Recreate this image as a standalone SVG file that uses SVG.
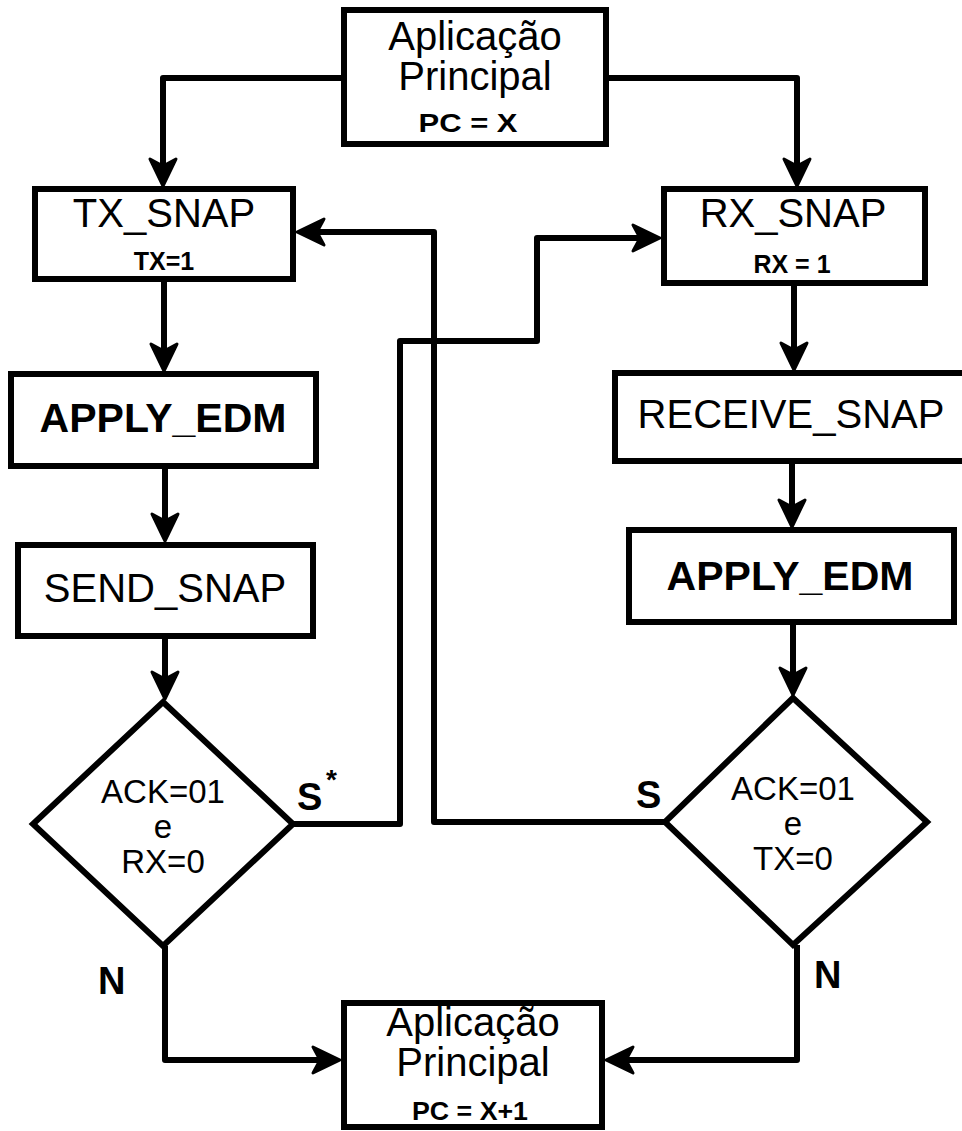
<svg xmlns="http://www.w3.org/2000/svg" width="962" height="1131" viewBox="0 0 962 1131">
<style>
.box{fill:#fff;stroke:#000;stroke-width:6}
.t{font-family:"Liberation Sans",Arial,sans-serif;fill:#000;text-anchor:middle}
.big{font-size:40px}
.bb{font-size:41px;font-weight:bold}
.sm{font-size:25px;font-weight:bold}
.dt{font-size:33px}
.lb{font-family:"Liberation Sans",Arial,sans-serif;font-size:38px;font-weight:bold;fill:#000}
.c{fill:none;stroke:#000;stroke-width:6;stroke-linejoin:round;marker-end:url(#ah)}
</style>
<defs>
<marker id="ah" viewBox="-32 -16 52 32" refX="-14" refY="0" markerWidth="52" markerHeight="32" markerUnits="userSpaceOnUse" orient="auto">
<path d="M0,0 L-27,-13 L-20,0 L-27,13 Z" fill="#000" stroke="#000" stroke-width="3" stroke-linejoin="round"/>
</marker>
</defs>
<g id="connectors">
<path class="c" d="M344,78 H163 V172"/>
<path class="c" d="M606,78 H797 V172"/>
<path class="c" d="M164,279 V357"/>
<path class="c" d="M165,466 V527"/>
<path class="c" d="M165,636 V685"/>
<path class="c" d="M794,283 V356"/>
<path class="c" d="M792,461 V513"/>
<path class="c" d="M793,622 V681"/>
<path class="c" d="M293,824 H400 V341 H537 V238 H646"/>
<path class="c" d="M665,822 H434 V232 H311"/>
<path class="c" d="M165,946 V1060 H326"/>
<path class="c" d="M797,945 V1060 H620"/>
</g>
<g id="top-app">
<rect class="box" x="344" y="10" width="262" height="134"/>
<text class="t big" x="475" y="50">Aplicação</text>
<text class="t big" x="475" y="90">Principal</text>
<text class="t sm" x="468" y="132" textLength="99" lengthAdjust="spacingAndGlyphs">PC = X</text>
</g>
<g id="tx-snap">
<rect class="box" x="35" y="189" width="258" height="90"/>
<text class="t big" x="164" y="227">TX_SNAP</text>
<text class="t sm" x="164" y="270">TX=1</text>
</g>
<g id="rx-snap">
<rect class="box" x="664" y="189" width="261" height="94"/>
<text class="t big" x="793" y="227">RX_SNAP</text>
<text class="t sm" x="792" y="273">RX = 1</text>
</g>
<g id="apply-edm-left">
<rect class="box" x="11" y="374" width="305" height="92"/>
<text class="t bb" x="163" y="432">APPLY_EDM</text>
</g>
<g id="send-snap">
<rect class="box" x="18" y="545" width="295" height="91"/>
<text class="t big" x="165" y="602">SEND_SNAP</text>
</g>
<g id="receive-snap">
<rect class="box" x="615" y="373" width="360" height="88"/>
<text class="t big" x="791" y="428">RECEIVE_SNAP</text>
</g>
<g id="apply-edm-right">
<rect class="box" x="629" y="530" width="325" height="92"/>
<text class="t bb" x="790" y="590">APPLY_EDM</text>
</g>
<g id="decision-left">
<polygon class="box" points="163,702 293,824 163,946 33,824"/>
<text class="t dt" x="163" y="803">ACK=01</text>
<text class="t dt" x="163" y="838">e</text>
<text class="t dt" x="163" y="873">RX=0</text>
</g>
<g id="decision-right">
<polygon class="box" points="793,698 927,822 793,945 665,822"/>
<text class="t dt" x="793" y="800">ACK=01</text>
<text class="t dt" x="793" y="835">e</text>
<text class="t dt" x="793" y="870">TX=0</text>
</g>
<g id="labels">
<text class="lb" x="297" y="810">S</text>
<text class="lb" x="326" y="789" style="font-size:28px">*</text>
<text class="lb" x="636" y="808">S</text>
<text class="lb" x="98" y="994">N</text>
<text class="lb" x="814" y="988">N</text>
</g>
<g id="bottom-app">
<rect class="box" x="344" y="1003" width="258" height="124"/>
<text class="t big" x="473" y="1036">Aplicação</text>
<text class="t big" x="473" y="1076">Principal</text>
<text class="t sm" x="470" y="1120" textLength="116" lengthAdjust="spacingAndGlyphs">PC = X+1</text>
</g>
</svg>
